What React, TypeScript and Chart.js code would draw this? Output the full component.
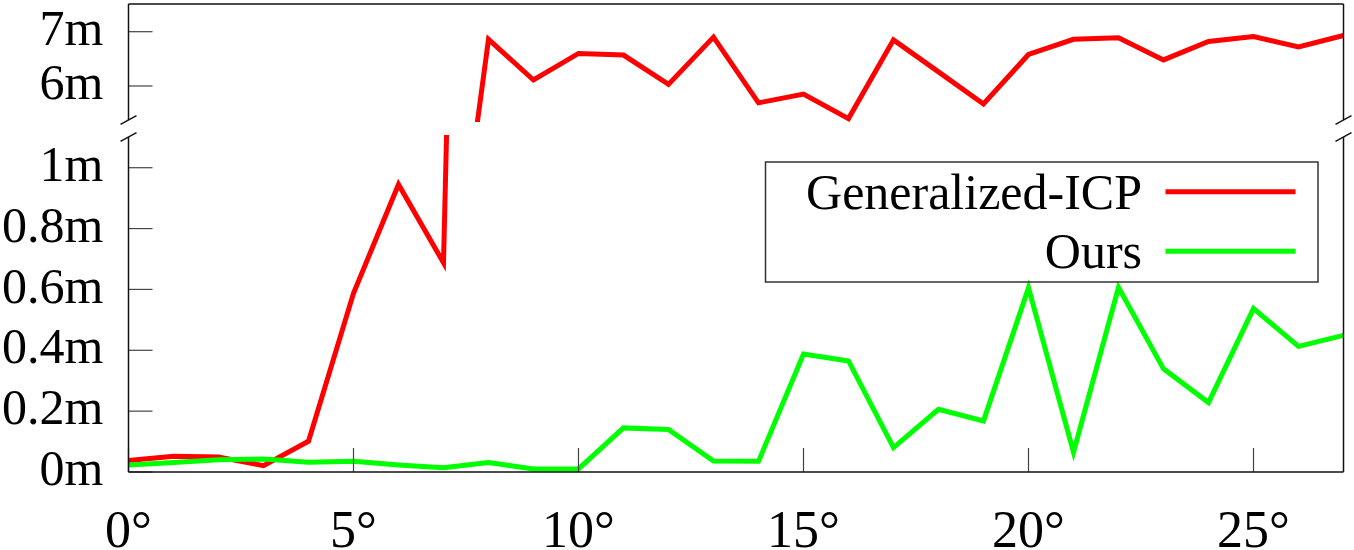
import React, { useEffect, useRef } from "react";
import { Chart, registerables } from "chart.js";

Chart.register(...registerables);

// ---- data ----
const angles = [0, 1, 2, 3, 4, 5, 6, 7, 8, 9, 10, 11, 12, 13, 14, 15, 16, 17, 18, 19, 20, 21, 22, 23, 24, 25, 26, 27];
const gicpError = [0.038, 0.052, 0.049, 0.021, 0.101, 0.587, 0.945, 0.688, 6.86, 6.11, 6.6, 6.57, 6.03, 6.9, 5.69, 5.85, 5.4, 6.85, 6.26, 5.67, 6.58, 6.86, 6.89, 6.48, 6.82, 6.91, 6.72, 6.93];
const oursError = [0.023, 0.031, 0.04, 0.043, 0.032, 0.035, 0.023, 0.014, 0.031, 0.01, 0.01, 0.145, 0.14, 0.036, 0.035, 0.388, 0.365, 0.08, 0.206, 0.168, 0.605, 0.065, 0.607, 0.339, 0.228, 0.537, 0.413, 0.449];
const seriesNames = ["Generalized-ICP", "Ours"];
const seriesColors = ["#ff0000", "#00ff00"];
const xTicks = [0, 5, 10, 15, 20, 25];
const yTicksLow = [0, 0.2, 0.4, 0.6, 0.8, 1];
const yTicksHigh = [6, 7];

const FONT = '"Liberation Serif", "Times New Roman", serif';
const LINE_W = 5;

const toPoints = (ys: number[]) => angles.map((a, i) => ({ x: a, y: ys[i] }));

const clipPlugin = {
  id: "panelClip",
  beforeDatasetDraw(chart: any, args: any) {
    const ys = args.meta.yScale;
    const a = chart.chartArea;
    const ctx = chart.ctx;
    ctx.save();
    ctx.beginPath();
    ctx.rect(a.left, ys.top, a.right - a.left, ys.bottom - ys.top);
    ctx.clip();
  },
  afterDatasetDraw(chart: any) {
    chart.ctx.restore();
  },
};

const framePlugin = {
  id: "brokenFrame",
  afterDatasetsDraw(chart: any) {
    const { ctx, chartArea: a, scales } = chart;
    const hi = scales.yHigh;
    const lo = scales.yLow;
    const xs = scales.x;
    const seg = (x1: number, y1: number, x2: number, y2: number) => {
      ctx.beginPath();
      ctx.moveTo(x1, y1);
      ctx.lineTo(x2, y2);
      ctx.stroke();
    };
    ctx.save();
    // inward ticks
    ctx.strokeStyle = "#444";
    ctx.lineWidth = 1.2;
    const TL = 24;
    for (const v of yTicksHigh) {
      const py = hi.getPixelForValue(v);
      seg(a.left, py, a.left + TL, py);
    }
    for (const v of yTicksLow) {
      const py = lo.getPixelForValue(v);
      seg(a.left, py, a.left + TL, py);
    }
    for (const v of xTicks) {
      const px = xs.getPixelForValue(v);
      seg(px, a.bottom, px, a.bottom - TL);
    }
    // frame with break
    ctx.strokeStyle = "#111";
    ctx.lineWidth = 1.5;
    const b1 = hi.bottom - 2;
    const b2 = lo.top + 2;
    seg(a.left, a.top, a.right, a.top);
    seg(a.left, a.bottom, a.right, a.bottom);
    for (const x of [a.left, a.right]) {
      seg(x, a.top, x, b1);
      seg(x, b2, x, a.bottom);
      seg(x - 8, b1 + 4.3, x + 8, b1 - 4.3);
      seg(x - 8, b2 + 4.3, x + 8, b2 - 4.3);
    }
    // legend
    ctx.strokeStyle = "#333";
    ctx.lineWidth = 1.5;
    ctx.strokeRect(765.5, 162, 552.5, 120);
    ctx.font = `50px ${FONT}`;
    ctx.fillStyle = "#000";
    ctx.textAlign = "right";
    ctx.textBaseline = "alphabetic";
    const rows = [191.7, 251.2];
    seriesNames.forEach((name, i) => {
      const y = rows[i];
      ctx.fillText(name, 1142, y + 16.8);
      ctx.strokeStyle = seriesColors[i];
      ctx.lineWidth = LINE_W;
      seg(1165.5, y, 1295.5, y);
    });
    ctx.restore();
  },
};

export default function App() {
  const ref = useRef<HTMLCanvasElement | null>(null);
  useEffect(() => {
    if (!ref.current) return;
    const yFont = { family: FONT, size: 50 };
    const xFont = { family: FONT, size: 52 };
    const yCommon = (min: number, max: number, ticks: number[], stackWeight: number, weight: number) => ({
      type: "linear" as const,
      position: "left" as const,
      stack: "panels",
      stackWeight,
      weight,
      min,
      max,
      afterBuildTicks: (s: any) => {
        s.ticks = ticks.map((v) => ({ value: v }));
      },
      afterFit: (s: any) => {
        s.width = 128.5;
        s.paddingTop = 0;
        s.paddingBottom = 0;
      },
      ticks: {
        padding: 25,
        color: "#000",
        font: yFont,
        autoSkip: false,
        callback: (v: any) => `${v}m`,
      },
      grid: { display: false, drawTicks: false },
      border: { display: false },
    });
    const lineDs = (label: string, ys: number[], axis: string, color: string) => ({
      label,
      data: toPoints(ys),
      yAxisID: axis,
      borderColor: color,
      borderWidth: LINE_W,
      borderJoinStyle: "miter" as const,
      pointRadius: 0,
      tension: 0,
      fill: false,
    });
    const chart = new Chart(ref.current, {
      type: "line",
      data: {
        datasets: [
          lineDs(seriesNames[1], oursError, "yLow", seriesColors[1]),
          lineDs(seriesNames[0], gicpError, "yLow", seriesColors[0]),
          lineDs(seriesNames[0] + " (upper)", gicpError, "yHigh", seriesColors[0]),
        ],
      },
      options: {
        responsive: false,
        animation: false,
        events: [],
        layout: { padding: { top: 4, right: 10.5, bottom: 0, left: 0 } },
        plugins: { legend: { display: false }, tooltip: { enabled: false } },
        scales: {
          x: {
            type: "linear",
            position: "bottom",
            min: 0,
            max: 27,
            afterBuildTicks: (s: any) => {
              s.ticks = xTicks.map((v) => ({ value: v }));
            },
            afterFit: (s: any) => {
              s.height = 78;
              s.paddingLeft = 0;
              s.paddingRight = 0;
            },
            ticks: {
              padding: 30,
              color: "#000",
              font: xFont,
              maxRotation: 0,
              autoSkip: false,
              callback: (v: any) => `${v}°`,
            },
            grid: { display: false, drawTicks: false },
            border: { display: false },
          },
          yLow: yCommon(0, 1.1075, yTicksLow, 337, 1),
          yGap: {
            ...yCommon(0, 1, [], 13, 2),
            ticks: { display: false },
          },
          yHigh: yCommon(5.337, 7.51, yTicksHigh, 118, 3),
        },
      } as any,
      plugins: [clipPlugin, framePlugin],
    });
    return () => chart.destroy();
  }, []);
  return (
    <div style={{ position: "fixed", left: 0, top: 0, width: 1354, height: 550, background: "#fff" }}>
      <canvas ref={ref} width={1354} height={550} style={{ display: "block" }} />
    </div>
  );
}
